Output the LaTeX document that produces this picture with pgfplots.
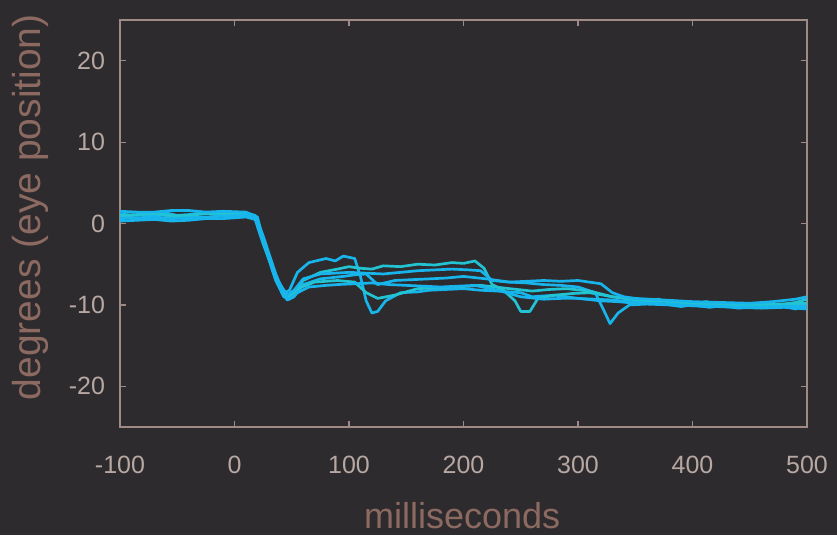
\documentclass[border=0pt]{standalone}
\usepackage{pgfplots}
\pgfplotsset{compat=1.18}
\usepackage{fontspec}
\setmainfont{Liberation Sans}
\definecolor{bg}{HTML}{2D2B2D}
\definecolor{axcol}{HTML}{A08A86}
\definecolor{tickcol}{HTML}{B8A8A4}
\definecolor{labcol}{HTML}{8C6A62}
\definecolor{cyA}{HTML}{18B4EC}
\definecolor{cyB}{HTML}{22C4D4}
\begin{document}
\begin{tikzpicture}
\fill[bg] (-60pt,-54pt) rectangle (358.5pt,213.5pt);
\begin{axis}[
  at={(0,0)}, anchor=south west,
  scale only axis, width=343.5pt, height=203.5pt,
  xmin=-100, xmax=500, ymin=-25, ymax=25,
  xtick={-100,0,...,500}, ytick={-20,-10,...,20},
  axis line style={axcol, line width=0.9pt},
  tick style={axcol, line width=0.6pt}, tick align=inside,
  major tick length=3pt,
  /pgf/number format/assume math mode=true,
  tick label style={tickcol, font=\fontsize{12.5}{14}\selectfont},
  xticklabel style={yshift=-11pt},
  yticklabel style={xshift=-4pt},
  xlabel={milliseconds}, ylabel={degrees (eye position)},
  label style={labcol},
  xlabel style={font=\fontsize{18}{20}\selectfont, at={(axis description cs:0.498,-0.218)}, anchor=center},
  ylabel style={font=\fontsize{19.5}{21}\selectfont, at={(axis description cs:-0.131,0.54)}, anchor=center},
  every axis plot/.append style={line width=1.35pt, line join=round},
]
% trace 1
\addplot[cyA] coordinates {(-100,1.2) (-90,1.0) (-80,1.1) (-70,0.9) (-60,1.3) (-50,1.0) (-40,1.1) (-30,1.3) (-20,1.2) (-10,1.0) (0,1.4) (10,1.3) (18,1.0) (25,-1.5) (32,-4.5) (38,-7) (44,-8.5) (48,-8.2) (55,-6.0) (65,-4.8) (80,-4.3) (88,-4.6) (95,-4.0) (105,-4.3) (110,-6.5) (115,-9.5) (120,-11.0) (125,-10.8) (132,-9.5) (145,-8.5) (160,-8.4) (170,-8.2) (185,-8.1) (200,-8.0) (215,-8.2) (230,-8.3) (250,-8.5) (260,-9.0) (280,-8.8) (300,-9.2) (320,-9.5) (335,-9.6) (350,-9.8) (365,-9.6) (375,-9.9) (390,-10.2) (400,-10.0) (415,-10.3) (425,-10.1) (440,-10.4) (450,-10.3) (465,-10.0) (480,-10.2) (490,-10.5) (500,-10.0)};
% trace 2
\addplot[cyB] coordinates {(-100,0.8) (-85,0.7) (-70,0.6) (-55,0.8) (-40,0.9) (-25,0.7) (-10,1.0) (10,1.1) (18,0.8) (25,-2) (32,-5) (40,-8) (46,-9.2) (52,-8.5) (60,-7.0) (75,-6.0) (90,-5.6) (100,-5.3) (110,-5.5) (120,-5.6) (130,-5.2) (145,-5.3) (160,-5.0) (175,-5.1) (190,-4.8) (200,-4.9) (210,-4.6) (218,-5.5) (225,-7.5) (235,-8.2) (245,-9.5) (250,-10.8) (258,-10.8) (265,-9.2) (280,-8.8) (295,-8.6) (310,-8.5) (330,-9.0) (345,-9.3) (360,-9.6) (370,-9.3) (380,-9.7) (400,-9.9) (412,-9.6) (425,-10.0) (450,-10.1) (462,-9.8) (475,-10.0) (490,-9.7) (500,-9.3)};
% trace 3
\addplot[cyA] coordinates {(-100,0.3) (-85,0.4) (-70,0.5) (-55,0.3) (-40,0.4) (-25,0.6) (-10,0.6) (10,0.8) (18,0.5) (25,-2.5) (33,-5.5) (40,-8.0) (46,-9.4) (52,-9.0) (60,-7.5) (75,-6.8) (95,-6.5) (105,-6.3) (115,-6.2) (125,-7.5) (140,-7.0) (155,-6.9) (170,-6.8) (185,-6.7) (200,-6.5) (220,-6.8) (240,-7.2) (255,-7.3) (270,-7.5) (285,-7.6) (300,-7.8) (315,-8.5) (322,-10.5) (328,-12.3) (335,-11.0) (345,-10.0) (360,-9.9) (380,-10.0) (400,-10.1) (420,-10.2) (440,-10.3) (460,-10.4) (480,-10.3) (500,-10.5)};
% trace 4
\addplot[cyB] coordinates {(-100,1.0) (-85,1.1) (-70,1.2) (-55,1.0) (-40,1.0) (-25,1.2) (-10,1.3) (10,1.2) (20,0.5) (27,-3) (35,-6.5) (42,-8.5) (47,-9.0) (55,-8.0) (70,-7.2) (90,-7.0) (105,-7.2) (115,-8.5) (125,-9.2) (140,-8.8) (160,-8.0) (175,-7.9) (190,-7.8) (205,-7.7) (215,-7.6) (240,-8.0) (260,-8.3) (275,-8.1) (290,-8.0) (310,-8.3) (330,-9.0) (345,-9.2) (360,-9.4) (380,-9.6) (400,-9.8) (425,-9.9) (450,-10.0) (475,-9.9) (500,-9.8)};
% trace 5
\addplot[cyA] coordinates {(-100,0.6) (-85,0.7) (-70,0.8) (-55,0.6) (-40,0.7) (-25,0.8) (-10,0.9) (10,1.0) (18,0.7) (25,-2) (32,-5) (40,-7.5) (46,-8.8) (52,-8.2) (60,-6.8) (75,-6.2) (100,-6.0) (115,-6.1) (130,-6.2) (145,-6.0) (160,-5.8) (175,-5.7) (190,-5.6) (205,-5.7) (215,-5.8) (225,-7.0) (240,-7.2) (255,-7.1) (270,-7.0) (285,-7.1) (300,-7.0) (320,-7.4) (330,-8.5) (340,-9.0) (350,-9.2) (375,-9.4) (400,-9.6) (425,-9.7) (450,-9.8) (470,-9.6) (490,-9.3) (500,-9.0)};
% trace 6
\addplot[cyA] coordinates {(-100,1.5) (-85,1.4) (-70,1.4) (-55,1.6) (-40,1.6) (-25,1.4) (-10,1.5) (10,1.4) (20,0.8) (28,-3.5) (36,-7) (43,-9) (48,-9.3) (55,-8.5) (65,-7.8) (80,-7.6) (90,-7.5) (105,-7.4) (120,-7.3) (135,-7.5) (150,-7.6) (165,-7.7) (180,-7.8) (195,-7.7) (210,-7.6) (230,-8.2) (250,-9.0) (270,-9.3) (285,-9.2) (300,-9.2) (315,-9.3) (330,-9.4) (345,-9.6) (360,-9.8) (380,-9.9) (400,-10.1) (425,-10.2) (450,-10.3) (475,-10.2) (500,-10.2)};
\end{axis}
\end{tikzpicture}
\end{document}
